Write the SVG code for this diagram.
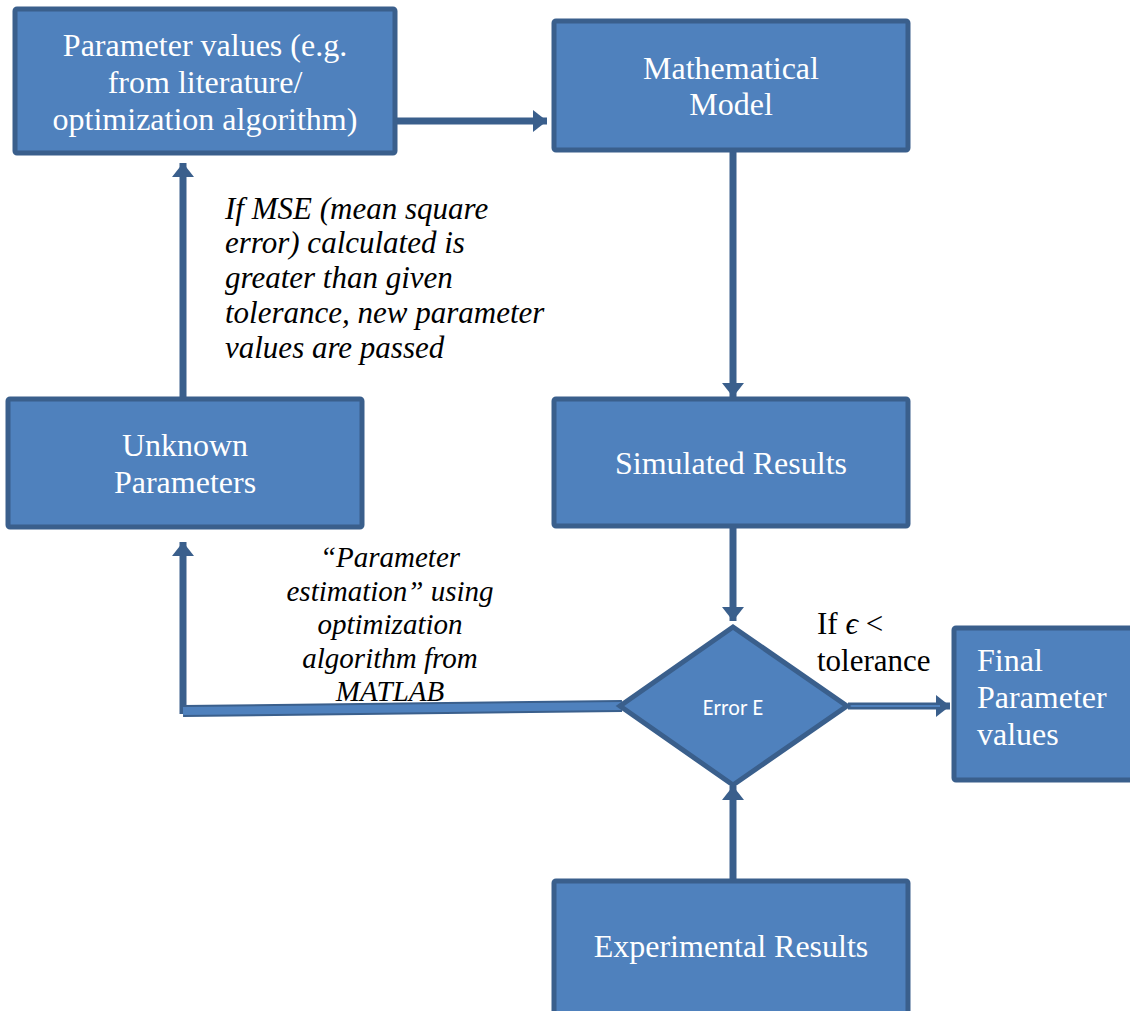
<svg xmlns="http://www.w3.org/2000/svg" width="1130" height="1011" viewBox="0 0 1130 1011">
<defs>
<style>
.box{fill:#4F81BD;stroke:#3A5F8C;stroke-width:5}
.bt{font-family:'Liberation Serif','Times New Roman',serif;font-size:32px;fill:#fff;text-anchor:middle}
.lt{font-family:'Liberation Serif','Times New Roman',serif;font-size:31px;font-style:italic;fill:#000}
.ct{stroke:#3A5F8C;stroke-width:7;fill:none}
</style>
<marker id="ah" markerUnits="userSpaceOnUse" markerWidth="20" markerHeight="22" refX="14" refY="11" orient="auto">
<path d="M0,0 L14,11 L0,22 Z" fill="#3A5F8C"/>
</marker>
</defs>
<rect width="1130" height="1011" fill="#fff"/>
<g id="connectors">
<line class="ct" x1="396" y1="121" x2="547" y2="121" marker-end="url(#ah)"/>
<line class="ct" x1="733" y1="150" x2="733" y2="397" marker-end="url(#ah)"/>
<line class="ct" x1="733" y1="527" x2="733" y2="621" marker-end="url(#ah)"/>
<line class="ct" x1="733" y1="880" x2="733" y2="786" marker-end="url(#ah)"/>
<line class="ct" x1="183" y1="398" x2="183" y2="163" marker-end="url(#ah)"/>
<line class="ct" x1="183" y1="714" x2="183" y2="542" marker-end="url(#ah)"/>
<path d="M183,711 L622,706" stroke="#3A5F8C" stroke-width="12" fill="none"/>
<path d="M183,711 L622,706" stroke="#4F81BD" stroke-width="8" fill="none"/>
<line class="ct" x1="848" y1="706" x2="950" y2="706" stroke-width="9" marker-end="url(#ah)"/>
<line x1="850" y1="706" x2="940" y2="706" stroke="#4F81BD" stroke-width="2"/>
</g>
<g id="n-params">
<rect class="box" x="15" y="9" width="380" height="144" rx="2"/>
<text class="bt" x="205" y="56">Parameter values (e.g.</text>
<text class="bt" x="205" y="93">from literature/</text>
<text class="bt" x="205" y="130">optimization algorithm)</text>
</g>
<g id="n-model">
<rect class="box" x="554" y="21" width="354" height="129" rx="2"/>
<text class="bt" x="731" y="79">Mathematical</text>
<text class="bt" x="731" y="115">Model</text>
</g>
<g id="n-simulated">
<rect class="box" x="554" y="399" width="354" height="127" rx="2"/>
<text class="bt" x="731" y="474">Simulated Results</text>
</g>
<g id="n-unknown">
<rect class="box" x="8" y="399" width="354" height="128" rx="2"/>
<text class="bt" x="185" y="456">Unknown</text>
<text class="bt" x="185" y="493">Parameters</text>
</g>
<g id="n-error">
<polygon class="box" points="733,627 847,706 733,785 620,706"/>
<text x="733" y="715" font-family="Carlito,'Open Sans','Liberation Sans',sans-serif" font-size="22" fill="#fff" text-anchor="middle">Error E</text>
</g>
<g id="n-final">
<rect class="box" x="954" y="628" width="180" height="152" rx="2"/>
<text class="bt" x="977" y="671" style="text-anchor:start">Final</text>
<text class="bt" x="977" y="708" style="text-anchor:start">Parameter</text>
<text class="bt" x="977" y="745" style="text-anchor:start">values</text>
</g>
<g id="n-experimental">
<rect class="box" x="554" y="881" width="354" height="135" rx="2"/>
<text class="bt" x="731" y="957">Experimental Results</text>
</g>
<g id="labels">
<text class="lt" x="225" y="219">If MSE (mean square</text>
<text class="lt" x="225" y="253">error) calculated is</text>
<text class="lt" x="225" y="288">greater than given</text>
<text class="lt" x="225" y="323">tolerance, new parameter</text>
<text class="lt" x="225" y="358">values are passed</text>
<text class="lt" x="390" y="567" text-anchor="middle" style="font-size:29px">“Parameter</text>
<text class="lt" x="390" y="601" text-anchor="middle" style="font-size:29px">estimation” using</text>
<text class="lt" x="390" y="634" text-anchor="middle" style="font-size:29px">optimization</text>
<text class="lt" x="390" y="668" text-anchor="middle" style="font-size:29px">algorithm from</text>
<text class="lt" x="390" y="701" text-anchor="middle" style="font-size:29px">MATLAB</text>
<text class="bt" x="817" y="634" style="fill:#000;text-anchor:start;font-size:31px">If <tspan font-style="italic">ϵ</tspan> &lt;</text>
<text class="bt" x="817" y="671" style="fill:#000;text-anchor:start;font-size:31px">tolerance</text>
</g>
</svg>
